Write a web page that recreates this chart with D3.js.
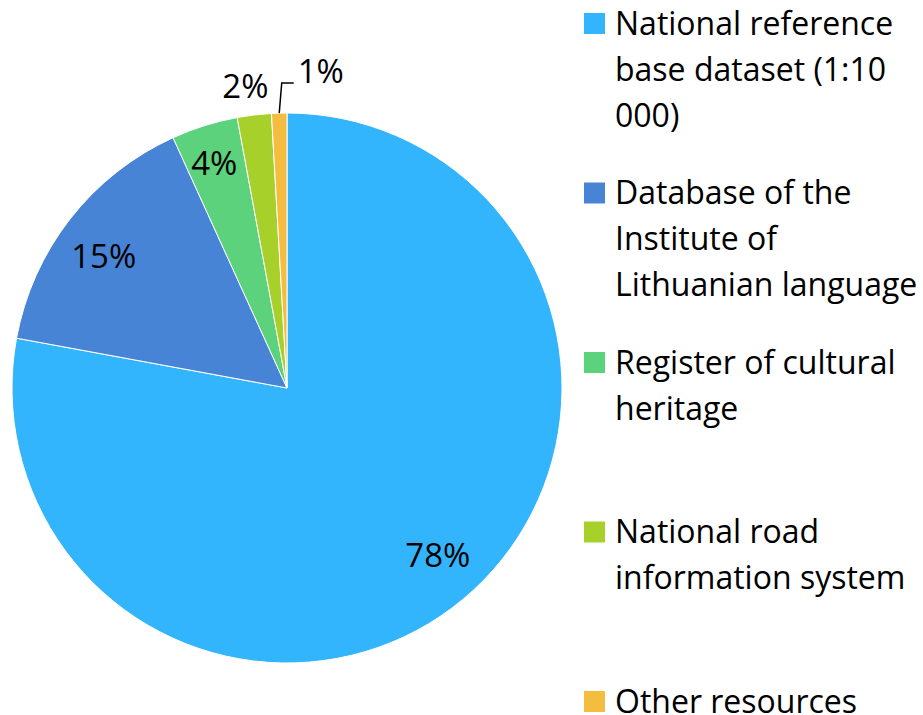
<!DOCTYPE html>
<html>
<head>
<meta charset="utf-8">
<script src="https://cdn.jsdelivr.net/npm/d3@7"></script>
<style>
  body { margin: 0; background: #fff; }
  text { font-family: "Open Sans", sans-serif; fill: #000; }
</style>
</head>
<body>
<div class="svg-container"></div>
<script>
var width = 923;
var height = 715;

// data
var categories = ["National reference base dataset (1:10 000)",
                  "Database of the Institute of Lithuanian language",
                  "Register of cultural heritage",
                  "National road information system",
                  "Other resources"];
var legendLines = [["National reference", "base dataset (1:10", "000)"],
                   ["Database of the", "Institute of", "Lithuanian language"],
                   ["Register of cultural", "heritage"],
                   ["National road", "information system"],
                   ["Other resources"]];
var values = [77.9, 15.3, 3.9, 2.0, 0.9];
var colors = ["#33B5FE", "#4784D5", "#5BD27B", "#A8D02B", "#F4BD40"];

var cx = 287, cy = 388, radius = 275;

var svg = d3.select(".svg-container")
            .append("svg")
            .attr("width", width)
            .attr("height", height);

var g = svg.append("g")
           .attr("transform", "translate(" + cx + "," + cy + ")");

var total = d3.sum(values);
var fmt = d3.format(".0%");

var pie = d3.pie().sort(null).value(function(d) { return d; });
var arcs = pie(values);

var arc = d3.arc().innerRadius(0).outerRadius(radius);

g.selectAll("path.slice")
  .data(arcs)
  .enter()
  .append("path")
  .attr("class", "slice")
  .attr("d", arc)
  .attr("fill", function(d, i) { return colors[i]; })
  .attr("stroke", "#fff")
  .attr("stroke-width", 1);

// label placement (radius, angle nudge in degrees) per slice
var labelRadius = [225, 226, 236, 305, 305];
var labelNudge = [-2.3, -2.2, -0.5, -1, 0];
var edgeArc = d3.arc().innerRadius(radius).outerRadius(radius);

function labelText(d) { return fmt(d.value / total); }
function midAngle(d) { return (d.startAngle + d.endAngle) / 2; }

var fontSize = 33;

arcs.forEach(function(d, i) {
    if (i < 4) {
        var p = d3.pointRadial(midAngle(d) + labelNudge[i] * Math.PI / 180, labelRadius[i]);
        g.append("text")
          .attr("x", p[0])
          .attr("y", p[1])
          .attr("dy", "0.36em")
          .attr("text-anchor", "middle")
          .style("font-size", fontSize + "px")
          .text(labelText(d));
    } else {
        // smallest slice gets a leader line
        var s = edgeArc.centroid(d);
        var elbowY = -labelRadius[i];
        var elbowX = s[0] + 2.5;
        g.append("path")
          .attr("d", d3.line()([s, [elbowX, elbowY], [elbowX + 12, elbowY]]))
          .attr("fill", "none")
          .attr("stroke", "#000")
          .attr("stroke-width", 1.5);
        g.append("text")
          .attr("x", elbowX + 16)
          .attr("y", elbowY)
          .attr("text-anchor", "start")
          .style("font-size", fontSize + "px")
          .text(labelText(d));
    }
});

// legend
var legendTop = 13;
var legendStep = 169.5;
var lineHeight = 46;

var legend = svg.append("g")
                .attr("transform", "translate(584,0)");

var item = legend.selectAll("g.item")
                 .data(categories)
                 .enter()
                 .append("g")
                 .attr("class", "item")
                 .attr("transform", function(d, i) { return "translate(0," + (legendTop + i * legendStep) + ")"; });

item.append("rect")
    .attr("x", 0)
    .attr("y", 0)
    .attr("width", 21)
    .attr("height", 21)
    .attr("fill", function(d, i) { return colors[i]; });

item.append("text")
    .attr("x", 31)
    .attr("y", 21.5)
    .style("font-size", "32px")
    .selectAll("tspan")
    .data(function(d, i) { return legendLines[i]; })
    .enter()
    .append("tspan")
    .attr("x", 31)
    .attr("dy", function(d, j) { return j === 0 ? 0 : lineHeight; })
    .text(function(d) { return d; });
</script>
</body>
</html>
